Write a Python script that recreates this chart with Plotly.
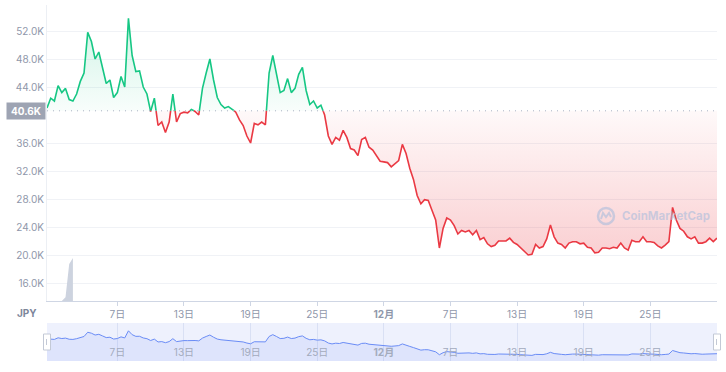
import plotly.graph_objects as go
import pandas as pd

# ---------------- data ----------------
start_time = "2021-10-31 16:00"
step = "8h"
prices_k = [
    41.0, 42.4, 42.0, 44.2, 43.2, 43.8, 42.2, 42.0, 43.0, 44.8,
    46.0, 51.8, 50.5, 48.0, 49.0, 46.8, 44.5, 45.0, 42.5, 43.2,
    45.5, 44.0, 53.8, 48.5, 46.2, 46.3, 44.0, 43.0, 40.5, 42.4,
    38.5, 39.0, 37.5, 39.0, 43.0, 39.0, 40.2, 40.4, 40.3, 40.8,
    40.5, 40.0, 43.8, 46.0, 48.0, 45.0, 42.5, 41.5, 41.0, 41.2,
    40.9, 40.4, 39.3, 38.5, 37.0, 36.0, 38.8, 38.6, 39.0, 38.6,
    46.0, 48.5, 46.0, 43.2, 43.5, 45.2, 43.2, 43.8, 45.8, 46.8,
    43.5, 41.5, 42.0, 41.0, 41.4, 40.0, 37.0, 35.8, 36.8, 36.4,
    37.8, 36.8, 35.2, 35.0, 34.2, 36.5, 36.8, 35.4, 35.0, 34.2,
    33.4, 33.3, 33.2, 32.6, 33.0, 33.5, 35.8, 34.5, 32.4, 30.8,
    28.5, 27.3, 27.9, 27.8, 26.4, 25.0, 21.0, 23.8, 25.3, 25.0,
    24.2, 23.0, 23.5, 23.3, 23.5, 22.9, 23.5, 22.2, 22.5, 21.6,
    21.2, 21.4, 22.0, 22.0, 22.0, 22.4, 21.8, 21.5, 21.0, 20.4,
    20.0, 20.1, 21.5, 21.0, 21.2, 22.3, 24.3, 22.6, 21.7, 21.5,
    21.0, 21.7, 21.9, 21.9, 21.6, 21.7, 21.1, 21.0, 20.3, 20.4,
    21.0, 21.0, 20.9, 21.1, 21.0, 21.7, 21.0, 20.7, 22.1, 21.9,
    21.9, 22.6, 21.9, 21.9, 21.8, 21.3, 21.0, 21.4, 21.9, 26.8,
    25.0, 23.8, 23.4, 22.6, 22.3, 22.6, 21.7, 21.7, 21.9, 22.4,
    21.9, 22.4,
]
base_k = 40.6
volume = [None, None, None, None, 0.0, 0.9, 8.6, 10.0]

tick_dates = ["2021-11-07", "2021-11-13", "2021-11-19", "2021-11-25",
              "2021-12-01", "2021-12-07", "2021-12-13", "2021-12-19", "2021-12-25"]
tick_text = ["7日", "13日", "19日", "25日", "<b>12月</b>", "7日", "13日", "19日", "25日"]
ytick_vals_k = [16, 20, 24, 28, 32, 36, 44, 48, 52]
ytick_text = ["16.0K", "20.0K", "24.0K", "28.0K", "32.0K", "36.0K", "44.0K", "48.0K", "52.0K"]
base_label = "40.6K"

# ---------------- derived ----------------
GREEN = "#16c784"
RED = "#ea3943"
dates = list(pd.date_range(start_time, periods=len(prices_k), freq=step))
P = [p * 1000 for p in prices_k]
B = base_k * 1000

xa, ya = [], []
for i in range(len(P)):
    if i > 0:
        p0, p1 = P[i - 1], P[i]
        if (p0 - B) * (p1 - B) < 0:
            f = (B - p0) / (p1 - p0)
            xa.append(dates[i - 1] + (dates[i] - dates[i - 1]) * f)
            ya.append(B)
    xa.append(dates[i])
    ya.append(P[i])

green_line = [y if y >= B else None for y in ya]
red_line = [y if y <= B else None for y in ya]
poly_x = xa + [xa[-1], xa[0]]
green_poly = [max(y, B) for y in ya] + [B, B]
red_poly = [min(y, B) for y in ya] + [B, B]

fig = go.Figure()

# volume sliver
fig.add_trace(go.Scatter(x=dates[:len(volume)], y=volume, mode="lines", line=dict(width=0, color="#c9d0dd"),
                         fill="tozeroy", fillcolor="#cdd3df", yaxis="y2", hoverinfo="skip"))

# fills
fig.add_trace(go.Scatter(x=poly_x, y=green_poly, mode="lines", line=dict(width=0), fill="toself",
                         fillgradient=dict(type="vertical", start=B, stop=54000,
                                           colorscale=[[0, "rgba(22,199,132,0.03)"], [1, "rgba(22,199,132,0.20)"]]),
                         hoverinfo="skip"))
fig.add_trace(go.Scatter(x=poly_x, y=red_poly, mode="lines", line=dict(width=0), fill="toself",
                         fillgradient=dict(type="vertical", start=20000, stop=B,
                                           colorscale=[[0, "rgba(234,57,67,0.24)"], [1, "rgba(234,57,67,0.03)"]]),
                         hoverinfo="skip"))
# lines
fig.add_trace(go.Scatter(x=xa, y=green_line, mode="lines", line=dict(color=GREEN, width=1.6)))
fig.add_trace(go.Scatter(x=xa, y=red_line, mode="lines", line=dict(color=RED, width=1.6)))

# navigator
fig.add_trace(go.Scatter(x=dates, y=P, mode="lines", line=dict(color="#6a8cf6", width=1),
                         fill="tozeroy", fillcolor="rgba(106,140,246,0.12)", xaxis="x2", yaxis="y3",
                         hoverinfo="skip"))

top_px, bottom_px = 5, 11
H = 372 - top_px - bottom_px  # 356


def py(pix):
    return (372 - bottom_px - pix) / H


def px(pix):
    return (pix - 47) / 670


main_bottom = py(301)
nav_top = py(323)

xrange = [dates[0], dates[-1]]
fig.update_layout(
    width=726, height=372,
    margin=dict(l=47, r=9, t=top_px, b=bottom_px, autoexpand=False),
    paper_bgcolor="white", plot_bgcolor="white", showlegend=False,
    font=dict(family="Inter, 'Noto Sans CJK JP', sans-serif", size=10, color="#8f97aa"),
    xaxis=dict(type="date", range=xrange, domain=[0, 1], anchor="y",
               tickmode="array", tickvals=tick_dates, ticktext=tick_text,
               ticks="outside", ticklen=4, tickcolor="#cfd6e4",
               showline=True, linecolor="#cfd6e4", linewidth=1,
               showgrid=False, zeroline=False, tickfont=dict(size=10, color="#8f97aa")),
    yaxis=dict(domain=[main_bottom, 1], range=[13429, 55714],
               tickmode="array", tickvals=[v * 1000 for v in ytick_vals_k], ticktext=ytick_text,
               showgrid=True, gridcolor="#f0f2f6", gridwidth=1, zeroline=False,
               showline=True, linecolor="#eceff4", ticks="", tickfont=dict(size=10, color="#8f97aa")),
    yaxis2=dict(overlaying="y", range=[0, 68.8], visible=False),
    xaxis2=dict(type="date", range=xrange, domain=[0, 1], anchor="y3",
                tickmode="array", tickvals=tick_dates, ticktext=tick_text,
                ticklabelposition="inside", ticks="", showline=False,
                showgrid=True, gridcolor="#d9e0f4", zeroline=False,
                tickfont=dict(size=10, color="#a3abbd")),
    yaxis3=dict(domain=[0, nav_top], range=[12400, 64500], visible=False),
)

shapes = [
    # navigator background
    dict(type="rect", xref="x2 domain", yref="y3 domain", x0=0, x1=1, y0=0, y1=1,
         fillcolor="#eef1fd", line=dict(width=0), layer="below"),
    # baseline dotted line
    dict(type="line", xref="paper", yref="y", x0=0, x1=1, y0=B, y1=B,
         line=dict(color="#a9b1c2", width=1, dash="1px,5px")),
]
# navigator handles
for xa_ in (0, 1):
    shapes.append(dict(type="rect", xref="paper", yref="paper", xsizemode="pixel", ysizemode="pixel",
                       xanchor=xa_, yanchor=py(342), x0=-3.5, x1=3.5, y0=-8, y1=8,
                       fillcolor="white", line=dict(color="#c3c9d6", width=1)))
    shapes.append(dict(type="line", xref="paper", yref="paper", xsizemode="pixel", ysizemode="pixel",
                       xanchor=xa_, yanchor=py(342), x0=-0.5, x1=-0.5, y0=-3, y1=3,
                       line=dict(color="#c3c9d6", width=1)))
# watermark logo
shapes.append(dict(type="circle", xref="paper", yref="paper", xsizemode="pixel", ysizemode="pixel",
                   xanchor=px(606), yanchor=py(216), x0=-8, x1=8, y0=-8, y1=8,
                   line=dict(color="rgba(170,188,220,0.6)", width=2.5)))
shapes.append(dict(type="path", xref="paper", yref="paper", xsizemode="pixel", ysizemode="pixel",
                   xanchor=px(606), yanchor=py(216),
                   path="M -5,-3 L -3,3 L 0,-1 L 3,3 L 5,-1",
                   line=dict(color="rgba(170,188,220,0.6)", width=2)))
fig.update_layout(shapes=shapes)

annotations = [
    dict(xref="paper", yref="y", x=px(46), y=B, xanchor="right", yanchor="middle",
         text=f"<b>{base_label}</b>", showarrow=False, bgcolor="#9ea4b3",
         font=dict(color="white", size=10), width=36, height=14, borderpad=1),
    dict(xref="paper", yref="paper", x=px(27), y=py(313), xanchor="center", yanchor="middle",
         text="<b>JPY</b>", showarrow=False, font=dict(color="#7d869a", size=10)),
    dict(xref="paper", yref="paper", x=px(712), y=py(216), xanchor="right", yanchor="middle",
         text="<b>CoinMarketCap</b>", showarrow=False,
         font=dict(color="rgba(170,188,220,0.6)", size=11.5)),
]
fig.update_layout(annotations=annotations)

fig.write_html("out.html", config={"displayModeBar": False},
               post_script="document.body.style.margin='0';document.body.style.padding='0';")
